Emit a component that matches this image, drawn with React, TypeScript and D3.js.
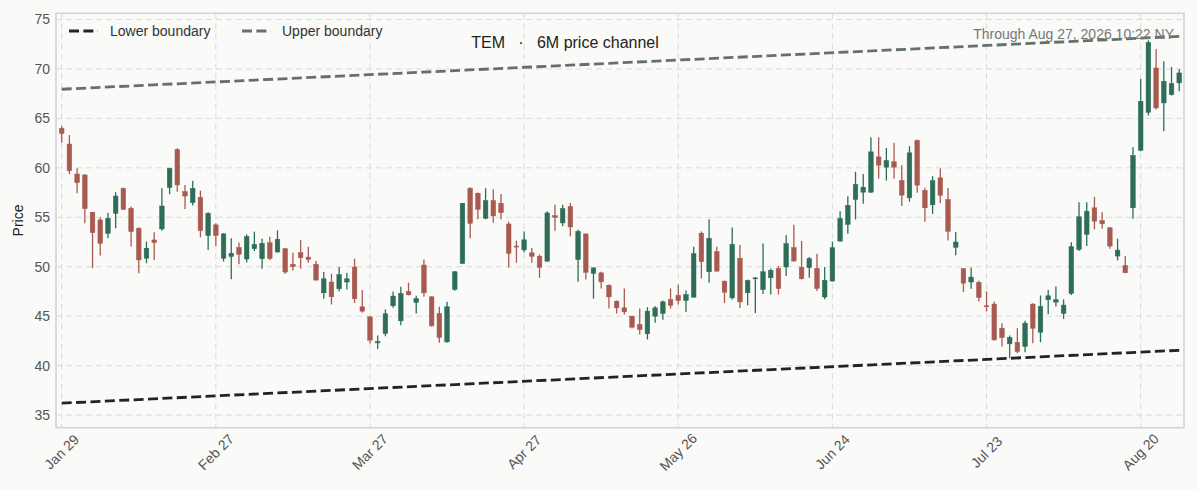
import * as d3 from "d3";

// TEM daily candles, Jan 29 - Aug 27 2026 (trading days only)
const tradeDates = [
  "2026-01-29", "2026-01-30",
  "2026-02-02", "2026-02-03", "2026-02-04", "2026-02-05", "2026-02-06",
  "2026-02-09", "2026-02-10", "2026-02-11", "2026-02-12", "2026-02-13",
  "2026-02-17", "2026-02-18", "2026-02-19", "2026-02-20",
  "2026-02-23", "2026-02-24", "2026-02-25", "2026-02-26", "2026-02-27",
  "2026-03-02", "2026-03-03", "2026-03-04", "2026-03-05", "2026-03-06",
  "2026-03-09", "2026-03-10", "2026-03-11", "2026-03-12", "2026-03-13",
  "2026-03-16", "2026-03-17", "2026-03-18", "2026-03-19", "2026-03-20",
  "2026-03-23", "2026-03-24", "2026-03-25", "2026-03-26", "2026-03-27",
  "2026-03-30", "2026-03-31", "2026-04-01", "2026-04-02",
  "2026-04-06", "2026-04-07", "2026-04-08", "2026-04-09", "2026-04-10",
  "2026-04-13", "2026-04-14", "2026-04-15", "2026-04-16", "2026-04-17",
  "2026-04-20", "2026-04-21", "2026-04-22", "2026-04-23", "2026-04-24",
  "2026-04-27", "2026-04-28", "2026-04-29", "2026-04-30", "2026-05-01",
  "2026-05-04", "2026-05-05", "2026-05-06", "2026-05-07", "2026-05-08",
  "2026-05-11", "2026-05-12", "2026-05-13", "2026-05-14", "2026-05-15",
  "2026-05-18", "2026-05-19", "2026-05-20", "2026-05-21", "2026-05-22",
  "2026-05-26", "2026-05-27", "2026-05-28", "2026-05-29",
  "2026-06-01", "2026-06-02", "2026-06-03", "2026-06-04", "2026-06-05",
  "2026-06-08", "2026-06-09", "2026-06-10", "2026-06-11", "2026-06-12",
  "2026-06-15", "2026-06-16", "2026-06-17", "2026-06-18",
  "2026-06-22", "2026-06-23", "2026-06-24", "2026-06-25", "2026-06-26",
  "2026-06-29", "2026-06-30", "2026-07-01", "2026-07-02",
  "2026-07-06", "2026-07-07", "2026-07-08", "2026-07-09", "2026-07-10",
  "2026-07-13", "2026-07-14", "2026-07-15", "2026-07-16", "2026-07-17",
  "2026-07-20", "2026-07-21", "2026-07-22", "2026-07-23", "2026-07-24",
  "2026-07-27", "2026-07-28", "2026-07-29", "2026-07-30", "2026-07-31",
  "2026-08-03", "2026-08-04", "2026-08-05", "2026-08-06", "2026-08-07",
  "2026-08-10", "2026-08-11", "2026-08-12", "2026-08-13", "2026-08-14",
  "2026-08-17", "2026-08-18", "2026-08-19", "2026-08-20", "2026-08-21",
  "2026-08-24", "2026-08-25", "2026-08-26", "2026-08-27",
];

const opens = [
  63.99, 62.41, 59.38, 59.28, 55.51, 54.73, 53.38, 55.4, 57.93, 55.91,
  53.89, 50.86, 52.71, 53.82, 58.0, 61.87, 57.59, 56.48, 57.02, 53.15,
  54.23, 50.86, 51.03, 51.94, 50.78, 51.82, 50.81, 52.43, 51.49, 51.82,
  50.24, 51.42, 50.98, 50.24, 47.36, 48.45, 47.77, 48.45, 49.97, 45.95,
  44.93, 42.3, 43.24, 46.05, 44.53, 47.5, 46.39, 50.17, 46.96, 45.27,
  42.4, 47.7, 50.34, 57.94, 57.43, 54.9, 56.69, 56.42, 54.32, 52.09,
  51.7, 51.4, 51.06, 50.56, 55.17, 54.43, 56.11, 50.72, 53.32, 49.34,
  49.38, 48.13, 46.52, 45.84, 45.0, 44.16, 43.22, 45.0, 45.28, 46.68,
  47.12, 46.58, 46.92, 53.39, 49.49, 51.53, 48.54, 46.85, 50.85, 47.36,
  48.78, 47.69, 48.88, 49.83, 49.97, 51.93, 49.95, 49.9, 49.83, 46.94,
  48.55, 52.59, 54.28, 56.8, 57.54, 57.54, 61.11, 60.07, 60.61, 58.72,
  56.97, 62.76, 57.71, 56.26, 58.99, 56.79, 51.96, 49.8, 48.45, 48.41,
  46.05, 46.22, 43.78, 42.2, 42.36, 41.93, 46.22, 43.38, 46.66, 46.42,
  45.28, 47.31, 51.75, 53.27, 55.96, 54.68, 53.94, 51.08, 50.13, 55.96,
  61.78, 65.62, 70.1, 66.57, 67.41, 68.59,
];

const highs = [
  64.23, 63.32, 59.95, 59.35, 55.55, 55.0, 55.47, 57.53, 58.0, 56.08,
  54.0, 52.54, 53.48, 57.93, 60.0, 61.97, 58.27, 58.7, 57.69, 55.5,
  54.39, 53.4, 52.88, 52.44, 53.25, 53.55, 52.84, 53.04, 53.68, 51.9,
  51.42, 52.7, 52.03, 50.57, 49.46, 49.29, 49.97, 49.39, 50.81, 47.64,
  45.0, 43.04, 45.68, 47.5, 47.97, 48.38, 47.06, 50.74, 47.0, 45.95,
  46.45, 49.56, 56.45, 58.04, 57.5, 57.94, 57.84, 57.36, 54.56, 52.64,
  53.57, 51.9, 51.23, 55.61, 56.28, 56.28, 56.45, 53.75, 53.35, 49.95,
  49.48, 48.2, 46.58, 47.79, 45.05, 45.77, 45.91, 46.01, 46.58, 47.8,
  48.2, 47.59, 52.03, 53.56, 54.81, 52.03, 48.6, 53.97, 52.2, 48.7,
  48.9, 52.34, 49.83, 50.07, 53.22, 54.24, 52.6, 50.98, 51.31, 49.97,
  52.53, 55.62, 57.14, 59.6, 59.39, 63.1, 63.1, 62.02, 62.53, 60.27,
  62.19, 62.86, 57.98, 59.16, 59.93, 57.97, 53.51, 49.85, 49.93, 48.58,
  47.5, 46.49, 44.29, 43.04, 43.78, 44.53, 46.3, 47.09, 47.67, 48.01,
  46.7, 52.48, 56.53, 56.53, 57.07, 55.52, 54.0, 52.83, 51.08, 62.12,
  68.99, 72.9, 72.02, 70.77, 70.2, 70.0,
];

const lows = [
  62.54, 59.38, 57.42, 54.39, 49.85, 51.13, 52.88, 53.89, 55.74, 52.04,
  49.34, 50.35, 50.69, 53.65, 57.32, 57.59, 55.84, 56.18, 52.98, 51.7,
  52.1, 50.52, 48.74, 50.25, 50.42, 51.59, 49.8, 50.68, 51.42, 49.29,
  49.63, 49.8, 50.41, 48.6, 46.76, 46.18, 47.53, 47.7, 46.35, 45.34,
  42.23, 41.69, 42.97, 45.86, 44.09, 47.1, 45.27, 46.96, 43.92, 42.3,
  42.3, 47.57, 50.27, 52.87, 54.8, 54.8, 54.46, 54.8, 49.93, 50.41,
  51.45, 50.39, 48.87, 50.5, 53.65, 54.09, 53.08, 48.47, 48.7, 46.78,
  47.79, 45.77, 45.27, 45.17, 43.75, 43.15, 42.64, 44.33, 44.65, 45.76,
  46.17, 45.42, 46.9, 48.81, 48.37, 49.49, 46.34, 46.68, 45.83, 46.1,
  45.32, 47.25, 47.19, 47.19, 49.05, 50.51, 48.7, 48.89, 47.54, 46.7,
  48.5, 52.55, 53.33, 54.78, 56.36, 57.47, 58.92, 58.72, 58.92, 56.13,
  56.57, 57.47, 54.55, 55.34, 56.45, 52.64, 51.15, 47.43, 47.77, 46.49,
  45.47, 42.55, 41.93, 40.74, 41.25, 41.35, 42.26, 42.36, 45.2, 45.98,
  44.72, 47.14, 51.58, 52.09, 53.77, 53.84, 51.82, 50.64, 49.35, 54.85,
  61.68, 65.29, 65.89, 63.7, 67.31, 67.74,
];

const closes = [
  63.48, 59.71, 58.5, 55.88, 53.45, 52.37, 54.9, 57.15, 55.81, 53.55,
  50.69, 51.87, 52.44, 56.14, 59.95, 58.27, 57.15, 57.93, 53.65, 55.4,
  53.15, 53.32, 51.36, 51.26, 53.05, 52.26, 52.36, 50.84, 52.77, 49.46,
  50.0, 50.91, 50.74, 48.65, 48.78, 46.96, 49.22, 48.78, 46.76, 45.51,
  42.57, 42.43, 45.24, 47.03, 47.3, 47.16, 46.79, 47.36, 44.02, 42.84,
  45.95, 49.49, 56.42, 54.39, 55.81, 56.69, 55.14, 55.47, 51.35, 52.03,
  52.72, 51.06, 49.95, 55.44, 55.0, 55.88, 54.02, 53.59, 49.44, 49.88,
  48.47, 46.95, 45.84, 45.44, 43.89, 43.65, 45.51, 45.84, 46.45, 46.1,
  46.58, 47.19, 51.32, 50.51, 52.88, 49.56, 47.42, 52.27, 46.44, 48.61,
  48.88, 49.49, 49.63, 47.8, 52.34, 50.58, 48.78, 50.81, 47.81, 48.62,
  51.92, 54.88, 56.2, 58.32, 58.05, 61.62, 60.27, 60.74, 60.07, 57.24,
  61.52, 58.25, 55.96, 58.7, 57.23, 53.58, 52.5, 48.34, 48.95, 46.89,
  45.98, 42.6, 42.84, 42.84, 41.42, 44.29, 43.78, 45.98, 47.06, 46.66,
  46.12, 52.03, 55.05, 55.62, 54.61, 54.34, 52.09, 51.68, 49.39, 61.25,
  66.73, 72.69, 66.06, 68.75, 68.52, 69.6,
];

// channel end points (first and last session)
const lowerBoundary = [36.2, 41.55];
const upperBoundary = [67.95, 73.3];

const yTicks = [35, 40, 45, 50, 55, 60, 65, 70, 75];
const xTickEvery = 20;

const W = 1197;
const H = 490;
const plot = { left: 56, right: 1184, top: 13.3, bottom: 427.7 };

const UP = "#2e6e58";
const DOWN = "#a85a50";
const LOWER_C = "#1b2722";
const UPPER_C = "#64716b";
const GRID = "#dadada";
const FONT = "'Liberation Sans', Arial, sans-serif";

const fmt = d3.timeFormat("%b %-d");
const parse = d3.timeParse("%Y-%m-%d");

export default function App() {
  const n = tradeDates.length;
  const x = d3.scaleLinear().domain([-0.74, n - 1 + 0.62]).range([plot.left, plot.right]);
  const y = d3.scaleLinear().domain([33.72, 75.63]).range([plot.bottom, plot.top]);
  const step = x(1) - x(0);
  const bodyW = step * 0.6;

  const xTicks = d3.range(0, n, xTickEvery);

  const line = d3
    .line<[number, number]>()
    .x((d) => x(d[0]))
    .y((d) => y(d[1]));

  const lowerPts: [number, number][] = [[0, lowerBoundary[0]], [n - 1, lowerBoundary[1]]];
  const upperPts: [number, number][] = [[0, upperBoundary[0]], [n - 1, upperBoundary[1]]];

  const dash = "10 4.4";

  return (
    <div style={{ position: "absolute", left: 0, top: 0, width: W, height: H, background: "#fafaf8" }}>
      <svg width={W} height={H} style={{ display: "block" }} fontFamily={FONT}>
        <rect x={0} y={0} width={W} height={H} fill="#fafaf8" />

        {/* grid */}
        {yTicks.map((t) => (
          <line key={"gy" + t} x1={plot.left} x2={plot.right} y1={y(t)} y2={y(t)}
            stroke={GRID} strokeWidth={1} strokeDasharray="6 4" />
        ))}
        {xTicks.map((i) => (
          <line key={"gx" + i} x1={x(i)} x2={x(i)} y1={plot.top} y2={plot.bottom}
            stroke={GRID} strokeWidth={1} strokeDasharray="6 4" />
        ))}

        {/* candles */}
        {tradeDates.map((d, i) => {
          const up = closes[i] >= opens[i];
          const c = up ? UP : DOWN;
          const top = y(Math.max(opens[i], closes[i]));
          const bot = y(Math.min(opens[i], closes[i]));
          return (
            <g key={d}>
              <line x1={x(i)} x2={x(i)} y1={y(highs[i])} y2={y(lows[i])} stroke={c} strokeWidth={1.3} />
              <rect x={x(i) - bodyW / 2} y={top} width={bodyW} height={Math.max(bot - top, 1)}
                fill={c} stroke={c} strokeWidth={0.5} />
            </g>
          );
        })}

        {/* channel */}
        <path d={line(lowerPts) ?? ""} fill="none" stroke={LOWER_C} strokeWidth={2.8} strokeDasharray={dash} />
        <path d={line(upperPts) ?? ""} fill="none" stroke={UPPER_C} strokeWidth={2.8} strokeDasharray={dash} />

        {/* frame */}
        <rect x={plot.left} y={plot.top} width={plot.right - plot.left} height={plot.bottom - plot.top}
          fill="none" stroke="#d4d4d4" strokeWidth={1.6} />

        {/* y axis */}
        {yTicks.map((t) => (
          <text key={"yt" + t} x={plot.left - 6} y={y(t)} dy="0.35em" textAnchor="end" fontSize={14} fill="#555">
            {t}
          </text>
        ))}
        <text transform={`translate(18,${(plot.top + plot.bottom) / 2}) rotate(-90)`} textAnchor="middle"
          dy="0.35em" fontSize={14} fill="#222">Price</text>

        {/* x axis */}
        {xTicks.map((i) => (
          <text key={"xt" + i} transform={`translate(${x(i)},452) rotate(-45)`} textAnchor="middle"
            dy="0.35em" fontSize={14} fill="#555">
            {fmt(parse(tradeDates[i]) as Date)}
          </text>
        ))}

        {/* legend */}
        <line x1={69} x2={98} y1={31} y2={31} stroke={LOWER_C} strokeWidth={2.8} strokeDasharray={dash} />
        <text x={110} y={31} dy="0.35em" fontSize={14} fill="#333">Lower boundary</text>
        <line x1={242} x2={271} y1={31} y2={31} stroke={UPPER_C} strokeWidth={2.8} strokeDasharray={dash} />
        <text x={282} y={31} dy="0.35em" fontSize={14} fill="#333">Upper boundary</text>

        {/* title + stamp */}
        <text x={565} y={42} dy="0.35em" textAnchor="middle" fontSize={16} fill="#222">
          {"TEM\u00A0\u00A0\u00A0·\u00A0\u00A0\u00A06M price channel"}
        </text>
        <text x={1174} y={34} dy="0.35em" textAnchor="end" fontSize={14} fill="#777">
          Through Aug 27, 2026 10:22 NY
        </text>
      </svg>
    </div>
  );
}
